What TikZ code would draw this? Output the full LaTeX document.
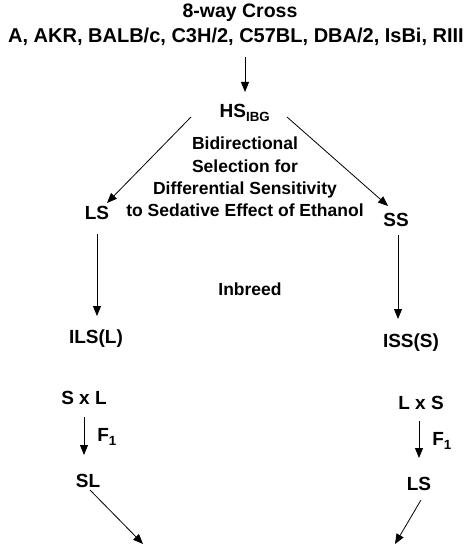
\documentclass[tikz,border=0pt]{standalone}
\usepackage{fontspec}
\setmainfont{Liberation Sans}
\usepackage{tikz}
\usetikzlibrary{arrows.meta, calc}

\begin{document}
\begin{tikzpicture}[x=1pt, y=-1pt,
    label/.style={inner sep=0pt, font=\fontsize{19}{22}\selectfont\bfseries},
    note/.style={inner sep=0pt, align=center,
      font=\fontsize{17.5}{22.3}\selectfont\bfseries},
    arr/.style={line width=0.8pt, -{Triangle[length=10pt, width=8pt]}}]
  \useasboundingbox (0,0) rectangle (470,545);

% CROSS AND SELECTION

  \node [label, font=\fontsize{19.5}{22}\selectfont\bfseries] (crosstitle) at (240,13) {8-way Cross};
  \node [label, font=\fontsize{20}{22}\selectfont\bfseries] (strains) at (236,37)
    {A, AKR, BALB/c, C3H/2, C57BL, DBA/2, IsBi, RIII};
  \node [label] (hs) at (245,113) {HS\textsubscript{IBG}};
  \node [note] (selection) at (245,177) {Bidirectional\\Selection for\\
    Differential Sensitivity\\to Sedative Effect of Ethanol};

  \node [label] (ls) at (97,213) {LS};
  \node [label] (ss) at (396,220) {SS};

% INBRED STRAINS

  \node [note] (inbreed) at (250,289) {Inbreed};
  \node [label] (ils) at (96,339) {ILS(L)};
  \node [label] (iss) at (411,343) {ISS(S)};

% RECIPROCAL F1

  \node [label] (sxl) at (84,398) {S x L};
  \node [label] (lxs) at (421,403) {L x S};
  \node [label] (fleft) at (107,437) {F\textsubscript{1}};
  \node [label] (fright) at (442,441) {F\textsubscript{1}};
  \node [label] (sl) at (88,481) {SL};
  \node [label] (lsf) at (419,484) {LS};

  \coordinate (slend) at (143,544);
  \coordinate (lsend) at (395,544);

  % ARROWS

  \draw[arr] ($(strains)+(9,20)$) -- ($(hs)+(0,-21)$);
  \draw[arr] ($(hs)+(-54,4)$) -- ($(ls)+(10,-10)$);
  \draw[arr] ($(hs)+(42,4)$) -- ($(ss)+(-8,-14)$);

  \draw[arr] ($(ls)+(0,21)$) -- ($(ils)+(1,-23)$);
  \draw[arr] ($(ss)+(2,15)$) -- ($(iss)+(-13,-24)$);

  \draw[arr] ($(sxl)+(0,19)$) -- ($(sl)+(-4,-26)$);
  \draw[arr] ($(lxs)+(-2,18)$) -- ($(lsf)+(0,-26)$);

  \draw[arr] ($(sl)+(2,9)$) -- (slend);
  \draw[arr] ($(lsf)+(2,16)$) -- (lsend);

\end{tikzpicture}
\end{document}
